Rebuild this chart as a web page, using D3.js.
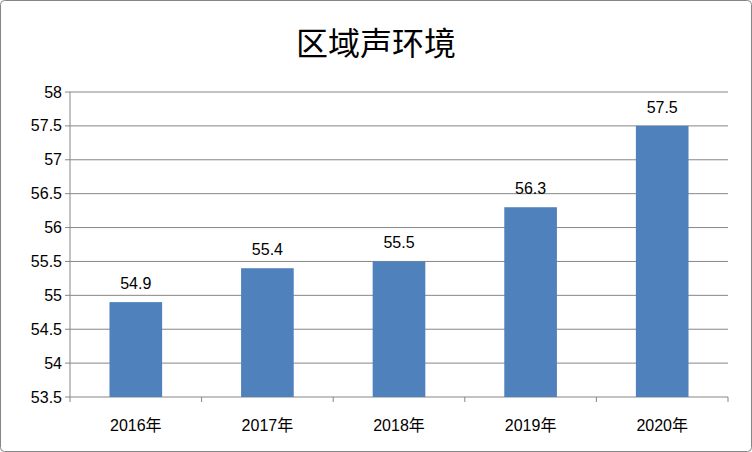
<!DOCTYPE html>
<html><head><meta charset="utf-8">
<script src="https://cdn.jsdelivr.net/npm/d3@7"></script>
<style>body{margin:0;background:#fff}</style></head>
<body><svg id="c" width="752" height="452"></svg>
<script>
const categories=["2016年","2017年","2018年","2019年","2020年"];
const values=[54.9,55.4,55.5,56.3,57.5];
const yTicks=[53.5,54,54.5,55,55.5,56,56.5,57,57.5,58];
const title="区域声环境";

const svg=d3.select("#c");
const font="'Liberation Sans','Noto Sans CJK SC',sans-serif";
svg.append("rect").attr("x",0.5).attr("y",0.5).attr("width",751).attr("height",451).attr("rx",4)
  .attr("fill","#fff").attr("stroke","#868686");
const L=70,R=728,T=92,B=397;
const x=d3.scaleBand().domain(categories).range([L,R]).paddingInner(0.6).paddingOuter(0.3);
const y=d3.scaleLinear().domain([53.5,58]).range([B,T]);
svg.append("g").selectAll("line").data(yTicks).join("line")
  .attr("x1",L-5).attr("x2",R).attr("y1",d=>y(d)).attr("y2",d=>y(d)).attr("stroke","#868686");
svg.append("line").attr("x1",L).attr("x2",L).attr("y1",T).attr("y2",B).attr("stroke","#868686");
const step=(R-L)/categories.length;
svg.append("g").selectAll("line").data(d3.range(categories.length+1)).join("line")
  .attr("x1",i=>L+i*step).attr("x2",i=>L+i*step).attr("y1",B).attr("y2",B+5).attr("stroke","#868686");
svg.append("g").selectAll("text").data(yTicks).join("text")
  .attr("x",L-8).attr("y",d=>y(d)).attr("dy","0.35em").attr("text-anchor","end")
  .attr("font-family",font).attr("font-size",16).text(d=>d);
svg.append("g").selectAll("rect").data(values).join("rect")
  .attr("x",(d,i)=>x(categories[i])).attr("width",x.bandwidth())
  .attr("y",d=>y(d)).attr("height",d=>B-y(d)).attr("fill","#4F81BD");
svg.append("g").selectAll("text").data(values).join("text")
  .attr("x",(d,i)=>x(categories[i])+x.bandwidth()/2).attr("y",d=>y(d)-13)
  .attr("text-anchor","middle").attr("font-family",font).attr("font-size",16).text(d=>d);
svg.append("g").selectAll("text").data(categories).join("text")
  .attr("x",d=>x(d)+x.bandwidth()/2).attr("y",431).attr("text-anchor","middle")
  .attr("font-family",font).attr("font-size",16).text(d=>d);
svg.append("text").attr("x",376).attr("y",55).attr("text-anchor","middle")
  .attr("font-family","'Noto Sans CJK SC',sans-serif").attr("font-size",32).text(title);
</script></body></html>
